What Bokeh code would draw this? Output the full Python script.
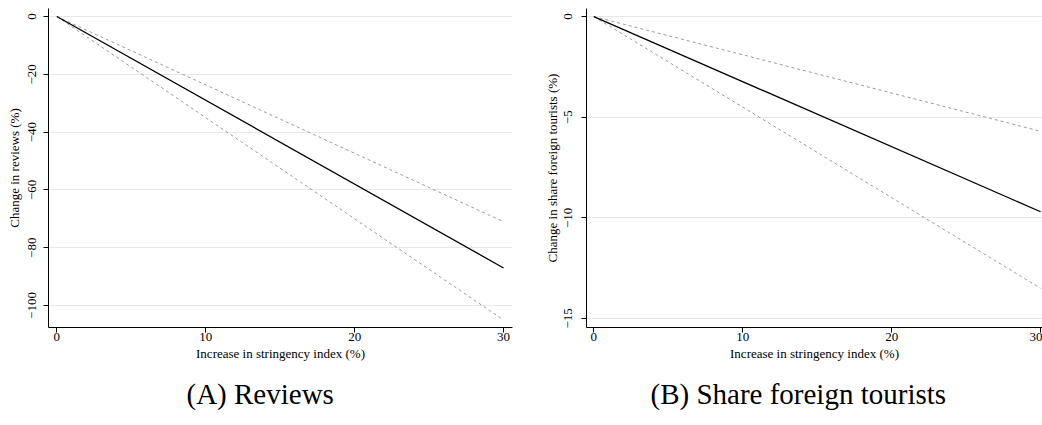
from bokeh.plotting import figure
from bokeh.models import Range1d, FixedTicker, Title
from bokeh.layouts import row
from bokeh.embed import file_html
from bokeh.resources import INLINE

# Data
x = [0, 30]
reviews_est = [0, -87]
reviews_upper = [0, -71]
reviews_lower = [0, -105]
share_est = [0, -9.7]
share_upper = [0, -5.7]
share_lower = [0, -13.5]

x_ticks = [0, 10, 20, 30]
reviews_ticks = [0, -20, -40, -60, -80, -100]
share_ticks = [0, -5, -10, -15]

FONT = "Liberation Serif"


def make_panel(est, up, lo, yticks, ylabel, caption, xr, yr, border_left, border_right,
               cap_offset, ylab_standoff, yaxlab_standoff):
    p = figure(width=521, height=425, output_backend="svg", toolbar_location=None,
               x_range=Range1d(*xr), y_range=Range1d(*yr),
               min_border_left=border_left, min_border_right=border_right,
               min_border_top=8, min_border_bottom=98)
    p.outline_line_color = None
    p.background_fill_color = "white"
    p.border_fill_color = "white"
    p.xgrid.grid_line_color = None
    p.ygrid.grid_line_color = "#e8e8e8"
    p.ygrid.grid_line_width = 1

    p.line(x, up, line_color="#9a9a9a", line_width=1, line_dash="3 3")
    p.line(x, lo, line_color="#9a9a9a", line_width=1, line_dash="3 3")
    p.line(x, est, line_color="black", line_width=1.3)

    p.xaxis.ticker = FixedTicker(ticks=x_ticks)
    p.yaxis.ticker = FixedTicker(ticks=yticks)
    for ax in (p.xaxis[0], p.yaxis[0]):
        ax.axis_line_color = "black"
        ax.axis_line_width = 1
        ax.major_tick_line_color = "black"
        ax.major_tick_out = 5
        ax.major_tick_in = 0
        ax.minor_tick_line_color = None
        ax.major_label_text_font = FONT
        ax.major_label_text_font_size = "13px"
        ax.major_label_text_color = "black"
        ax.axis_label_text_font = FONT
        ax.axis_label_text_font_size = "13px"
        ax.axis_label_text_font_style = "normal"
        ax.axis_label_text_color = "black"
    p.xaxis.axis_label = "Increase in stringency index (%)"
    p.xaxis.major_label_standoff = 0
    p.xaxis.axis_label_standoff = 2
    p.yaxis.axis_label = ylabel
    p.yaxis.major_label_orientation = "vertical"
    p.yaxis.major_label_standoff = ylab_standoff
    p.yaxis.axis_label_standoff = yaxlab_standoff

    t = Title(text=caption, align="left", text_font=FONT, text_font_size="29px",
              text_font_style="normal", text_color="black", standoff=25, offset=cap_offset)
    p.add_layout(t, "below")
    return p


p1 = make_panel(reviews_est, reviews_upper, reviews_lower, reviews_ticks,
                "Change in reviews (%)", "(A) Reviews",
                (-0.56, 30.6), (-107.6, 2.77), 48, 9, 138, 7, 4)
p2 = make_panel(share_est, share_upper, share_lower, share_ticks,
                "Change in share foreign tourists (%)", "(B) Share foreign tourists",
                (-0.49, 30.13), (-15.45, 0.4), 65, 0, 64, 9, 2)

layout = row(p1, p2)
open("out.html", "w").write(file_html(layout, INLINE))
